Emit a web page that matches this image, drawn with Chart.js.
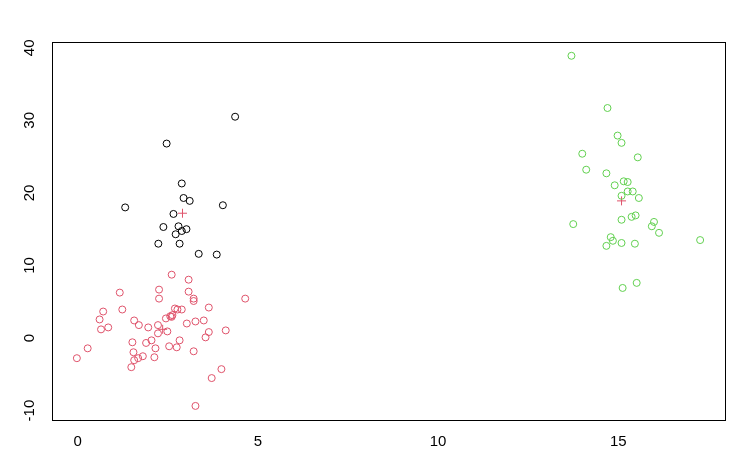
<!DOCTYPE html>
<html><head><meta charset="utf-8">
<script src="https://cdn.jsdelivr.net/npm/chart.js@4/dist/chart.umd.min.js"></script>
<style>html,body{margin:0;padding:0;background:#fff}#w{width:749px;height:465px}</style>
</head><body><div id="w"><canvas id="c"></canvas></div>
<script>
const blackX=[4.37,2.47,2.89,2.94,3.11,1.32,4.03,2.66,2.38,2.80,3.02,2.89,2.72,2.24,2.83,3.36,3.86];
const blackY=[30.5,26.8,21.3,19.3,18.9,18.0,18.3,17.1,15.3,15.4,15.0,14.75,14.3,13.0,13.0,11.6,11.5];
const redX=[2.61,3.08,1.17,2.26,3.08,2.26,3.22,3.22,4.65,0.71,1.24,3.64,2.70,2.77,2.89,2.63,2.57,2.61,2.45,0.61,1.57,3.27,3.50,3.03,1.70,2.23,1.96,0.85,0.65,2.49,2.23,3.64,4.11,3.55,1.52,2.05,1.90,2.83,0.28,2.16,2.54,2.75,3.22,1.55,-0.02,1.81,1.68,1.57,2.13,1.49,3.99,3.72,3.27];
const redY=[8.73,8.04,6.26,6.67,6.39,5.43,5.43,5.1,5.43,3.65,3.93,4.2,4.07,3.93,3.93,3.15,3.0,2.92,2.7,2.56,2.42,2.28,2.42,2.0,1.78,1.78,1.46,1.46,1.19,0.91,0.64,0.82,1.05,0.09,-0.59,-0.32,-0.68,-0.32,-1.42,-1.42,-1.14,-1.28,-1.83,-1.96,-2.78,-2.51,-2.78,-3.06,-2.65,-4.02,-4.29,-5.52,-9.36];
const greenX=[13.70,14.70,14.98,15.09,14.0,15.54,14.11,14.67,14.90,15.15,15.26,15.09,15.26,15.40,15.57,15.09,15.37,15.48,13.75,15.99,15.93,16.13,17.27,14.79,14.85,14.67,15.09,15.46,15.51,15.12];
const greenY=[38.9,31.7,27.9,26.9,25.4,24.9,23.2,22.7,21.05,21.6,21.5,19.6,20.2,20.2,19.3,16.3,16.7,16.9,15.7,16.0,15.4,14.5,13.5,13.9,13.4,12.7,13.1,13.0,7.6,6.9];
const centerX=[2.91,2.36,15.09];
const centerY=[17.2,1.2,18.9];
const xTicks=[0,5,10,15];
const yTicks=[-10,0,10,20,30,40];
const pts=(xs,ys)=>xs.map((x,i)=>({x,y:ys[i]}));
const ds=(xs,ys,c)=>({data:pts(xs,ys),borderColor:c,backgroundColor:'rgba(0,0,0,0)',pointRadius:3.5,pointBorderWidth:1,pointHoverRadius:3.5});
const box={id:'box',afterDraw(ch){const a=ch.chartArea,g=ch.ctx;g.save();g.strokeStyle='#000';g.lineWidth=1;g.strokeRect(a.left+0.5,a.top+0.5,a.right-a.left,a.bottom-a.top);g.restore();}};
new Chart(document.getElementById('c'),{type:'scatter',
data:{datasets:[ds(blackX,blackY,'#000'),ds(redX,redY,'#DF536B'),ds(greenX,greenY,'#61D04F'),
{data:pts(centerX,centerY),pointStyle:'cross',pointRadius:4.5,borderColor:'#DF536B',borderWidth:1,pointBorderWidth:1}]},
options:{responsive:true,maintainAspectRatio:false,animation:false,events:[],
layout:{padding:{top:42,right:24,left:0,bottom:0}},
plugins:{legend:{display:false},tooltip:{enabled:false}},
scales:{
x:{type:'linear',min:-0.71,max:17.96,afterFit(s){s.height=45;},
afterBuildTicks(s){s.ticks=xTicks.map(v=>({value:v}));},
grid:{display:false,drawTicks:true,tickLength:7,tickColor:'#000'},border:{display:false},
ticks:{color:'#000',font:{family:'Liberation Sans',size:15},padding:6,maxRotation:0}},
y:{type:'linear',min:-11.3,max:40.8,afterFit(s){s.width=52;},
afterBuildTicks(s){s.ticks=yTicks.map(v=>({value:v}));},
grid:{display:false,drawTicks:true,tickLength:7,tickColor:'#000'},border:{display:false},
ticks:{color:'#000',font:{family:'Liberation Sans',size:15},padding:4,minRotation:90,maxRotation:90,crossAlign:'center'}}
}},plugins:[box]});
</script></body></html>
